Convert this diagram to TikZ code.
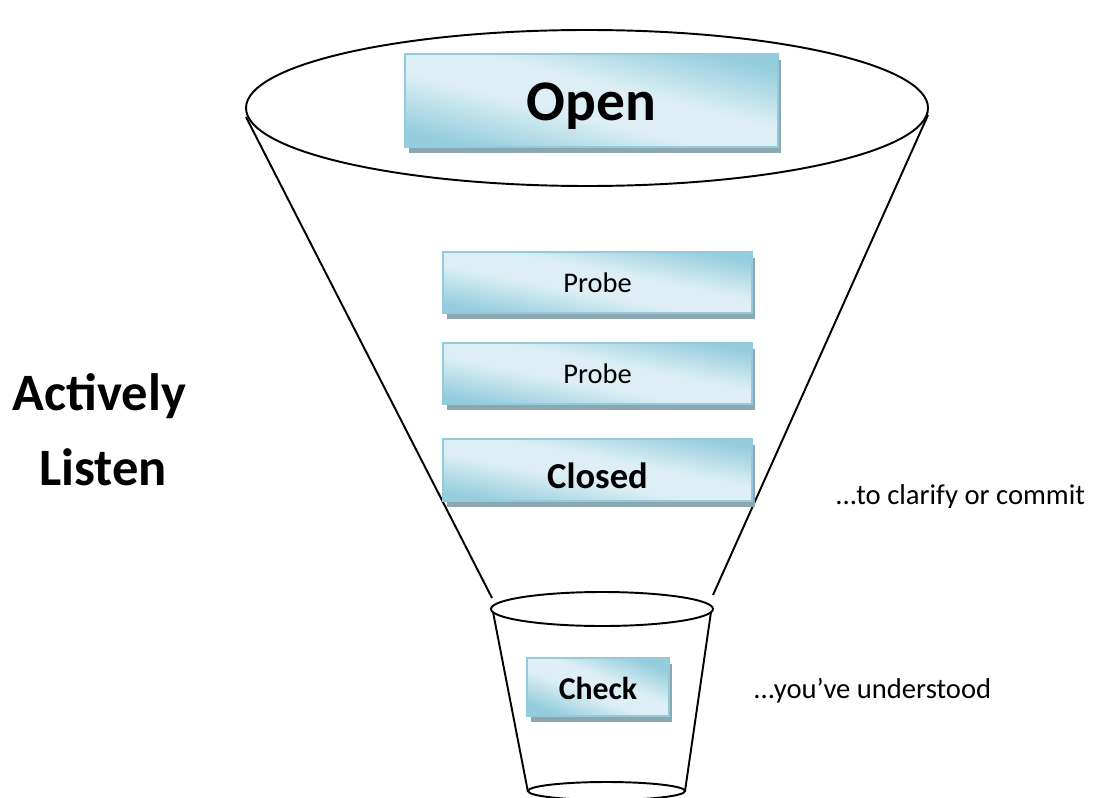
\documentclass[tikz,border=0pt]{standalone}
\usepackage{fontspec}
\setmainfont{Carlito}
\usetikzlibrary{shadows}

\definecolor{qdark}{HTML}{95CDDD}
\definecolor{qlight}{HTML}{DDEFF5}
\definecolor{qedge}{HTML}{92CBDB}
\definecolor{qshadow}{HTML}{8DA7B1}

% light band across the middle, darker towards two corners
\pgfdeclareverticalshading{qshade}{100bp}{color(0bp)=(qdark); color(25bp)=(qdark);
  color(44bp)=(qlight); color(56bp)=(qlight); color(75bp)=(qdark); color(100bp)=(qdark)}

\tikzset{
  qbox/.style={rectangle, draw=qedge, line width=0.8pt, inner sep=0pt,
    shading=qshade, shading angle=#1,
    drop shadow={shadow xshift=0.07cm, shadow yshift=-0.12cm, fill=qshadow, opacity=1},
    text depth=0pt},
  qbox/.default=-12,
  funnel/.style={line width=1.1pt, black},
}

\begin{document}
\begin{tikzpicture}[x=0.02cm, y=-0.02cm]
  \useasboundingbox (0,0) rectangle (1097,797);

  % funnel: wide mouth, sides, then the cup at the bottom
  \draw[funnel] (587,108) ellipse [x radius=341, y radius=78];
  \draw[funnel] (246,117) -- (492,598);
  \draw[funnel] (928,115) -- (713,595);
  \draw[funnel] (602,609) ellipse [x radius=111, y radius=17];
  \draw[funnel] (493,612) -- (528,792);
  \draw[funnel] (711,612) -- (685,791);
  \draw[funnel] (606.5,791) ellipse [x radius=78.5, y radius=9];

  % question boxes
  \node[qbox=-14, minimum width=7.46cm, minimum height=1.86cm, text height=0.82cm,
    font=\fontsize{32.7}{39}\selectfont\bfseries] (open) at (591.5,100.5) {Open};
  \foreach \name/\y in {probeA/282.5, probeB/373.5} { % the two probing boxes
    \node[qbox=-11, minimum width=6.18cm, minimum height=1.22cm, text height=0.38cm,
      font=\fontsize{16.2}{19}\selectfont] (\name) at (597.5,\y) {Probe};
  }
  \node[qbox=-11, minimum width=6.18cm, minimum height=1.24cm, text height=0.74cm,
    font=\fontsize{20.8}{25}\selectfont\bfseries] (closed) at (597.5,470) {Closed};
  \node[qbox=-22, minimum width=2.84cm, minimum height=1.16cm, text height=0.48cm,
    font=\fontsize{18.1}{22}\selectfont\bfseries] (check) at (598,687) {Check};

  % side captions
  \node[anchor=base, font=\fontsize{29.9}{36}\selectfont\bfseries] (actively) at (99.5,410) {Actively};
  \node[anchor=base, font=\fontsize{29.9}{36}\selectfont\bfseries] (listen) at (103,485) {Listen};
  \begin{scope}
    \clip (760,440) rectangle (1097,507);
    \node[anchor=base west, inner sep=0pt, font=\fontsize{16.3}{20}\selectfont] (clarify)
      at (835,504) {.\kern0pt.\kern0pt.to clarify or commit};
  \end{scope}
  \begin{scope}
    \clip (700,640) rectangle (1097,703);
    \node[anchor=base west, inner sep=0pt, font=\fontsize{16.3}{20}\selectfont] (understood)
      at (753,698) {.\kern0pt.\kern0pt.you’ve understood};
  \end{scope}
\end{tikzpicture}
\end{document}
